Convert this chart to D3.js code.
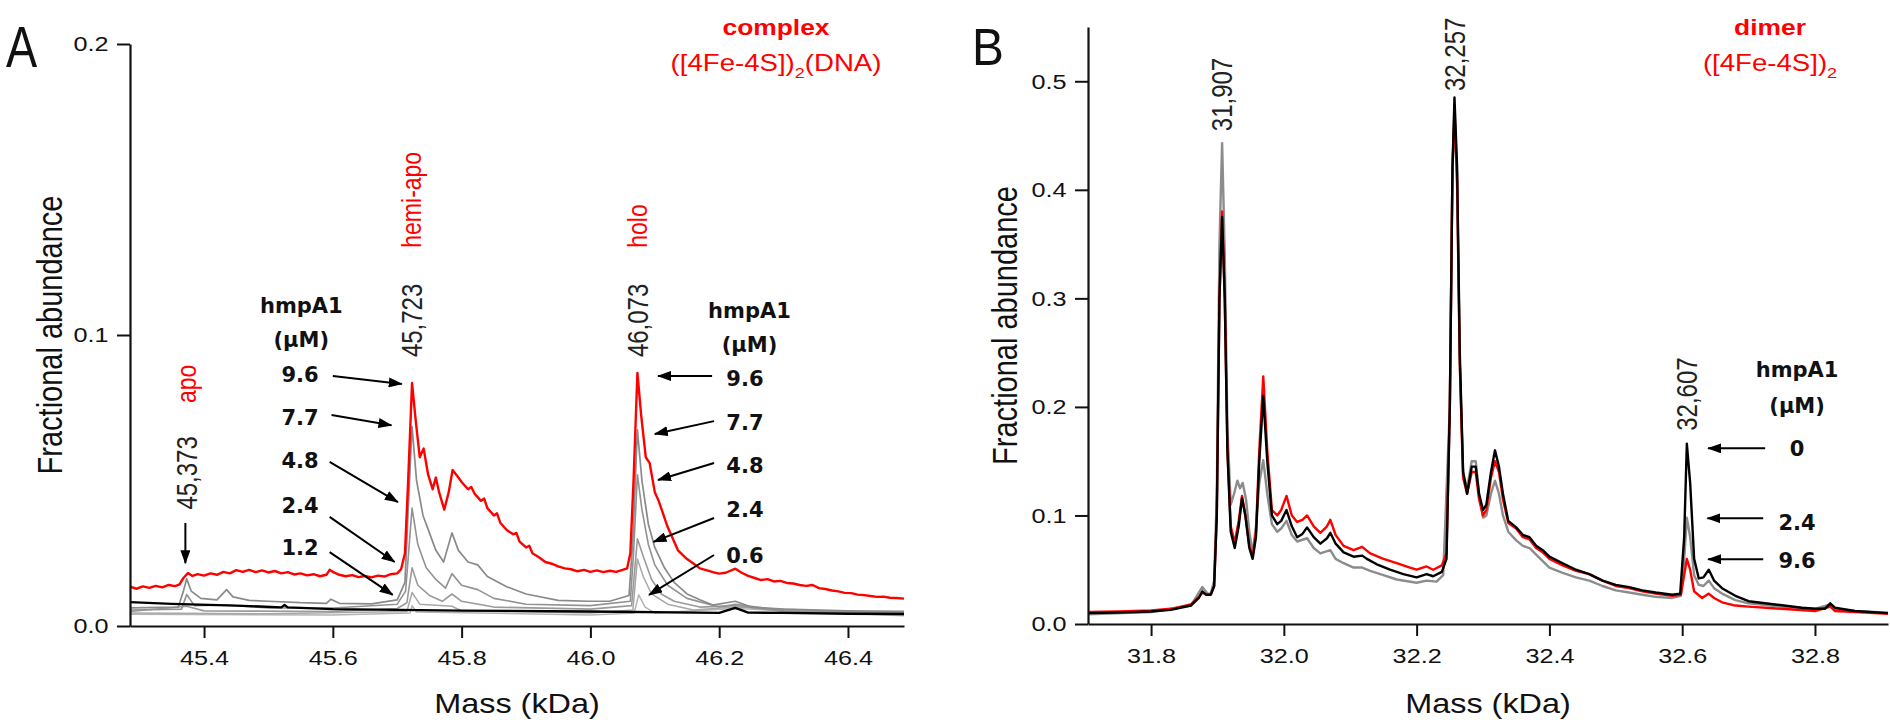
<!DOCTYPE html>
<html>
<head>
<meta charset="utf-8">
<script src="https://cdn.jsdelivr.net/npm/d3@7"></script>
<style>
 body{margin:0;background:#fff;}
</style>
</head>
<body>
<svg id="fig" width="1890" height="725"></svg>
<script>
// ---------- panel A : complex ([4Fe-4S])2(DNA) , [mass kDa, fractional abundance] ----------
var aRed96 = [[45.285,0.0135],[45.295,0.0128],[45.305,0.0136],[45.315,0.0131],[45.325,0.0138],[45.335,0.0133],
 [45.345,0.0141],[45.355,0.0137],[45.362,0.0143],[45.368,0.0165],[45.375,0.0182],[45.382,0.0172],[45.39,0.0178],
 [45.40,0.0173],[45.41,0.0181],[45.42,0.0176],[45.43,0.0186],[45.44,0.0181],[45.45,0.0192],[45.46,0.0186],
 [45.47,0.0193],[45.48,0.0185],[45.49,0.0191],[45.50,0.0184],[45.51,0.0189],[45.52,0.0181],[45.53,0.0185],
 [45.54,0.0177],[45.55,0.0181],[45.56,0.0174],[45.57,0.0178],[45.58,0.0171],[45.59,0.0176],[45.595,0.0193],
 [45.60,0.0186],[45.61,0.0176],[45.62,0.0171],[45.63,0.0175],[45.64,0.0168],[45.65,0.0172],[45.66,0.0167],
 [45.67,0.0173],[45.68,0.0170],[45.69,0.0178],[45.70,0.0181],[45.706,0.0195],[45.712,0.025],[45.717,0.05],
 [45.723,0.0835],[45.729,0.07],[45.735,0.058],[45.741,0.061],[45.748,0.052],[45.755,0.047],[45.76,0.051],
 [45.765,0.046],[45.773,0.040],[45.78,0.046],[45.786,0.0536],[45.795,0.051],[45.80,0.0495],[45.81,0.047],
 [45.815,0.0478],[45.82,0.0455],[45.83,0.043],[45.835,0.0438],[45.84,0.0405],[45.85,0.038],[45.855,0.0387],
 [45.86,0.0355],[45.87,0.033],[45.88,0.0315],[45.885,0.032],[45.89,0.029],[45.90,0.027],[45.905,0.0276],
 [45.91,0.025],[45.92,0.0236],[45.93,0.022],[45.94,0.0214],[45.95,0.0205],[45.96,0.0198],[45.97,0.0195],
 [45.98,0.0188],[45.99,0.0193],[46.00,0.0186],[46.01,0.0191],[46.02,0.0185],[46.03,0.019],[46.04,0.0186],
 [46.05,0.0193],[46.057,0.0198],[46.062,0.025],[46.067,0.05],[46.073,0.087],[46.079,0.072],[46.086,0.058],
 [46.092,0.056],[46.10,0.046],[46.106,0.043],[46.12,0.034],[46.136,0.026],[46.15,0.023],[46.16,0.0215],
 [46.17,0.0198],[46.18,0.0192],[46.19,0.0185],[46.20,0.018],[46.21,0.0183],[46.225,0.0197],[46.235,0.0183],
 [46.245,0.0172],[46.255,0.0165],[46.265,0.0158],[46.275,0.0161],[46.285,0.0153],[46.295,0.0155],
 [46.305,0.0148],[46.315,0.0146],[46.325,0.0141],[46.335,0.0138],[46.345,0.0141],[46.355,0.013],
 [46.365,0.0127],[46.375,0.0122],[46.385,0.0119],[46.395,0.0114],[46.405,0.0113],[46.415,0.0108],
 [46.425,0.0106],[46.435,0.0103],[46.445,0.010],[46.455,0.0101],[46.465,0.0097],[46.475,0.0096],[46.487,0.0094]];

var aGray77 = [[45.285,0.0062],[45.36,0.0065],[45.368,0.012],[45.373,0.0162],[45.38,0.012],[45.395,0.0095],
 [45.42,0.009],[45.435,0.0125],[45.445,0.010],[45.47,0.0088],[45.50,0.0085],[45.55,0.008],[45.59,0.0078],
 [45.597,0.0092],[45.61,0.0078],[45.66,0.0076],[45.70,0.009],[45.712,0.015],[45.717,0.04],[45.723,0.0685],
 [45.73,0.05],[45.74,0.038],[45.75,0.032],[45.76,0.026],[45.772,0.022],[45.785,0.032],[45.795,0.026],
 [45.81,0.022],[45.825,0.021],[45.84,0.017],[45.87,0.0135],[45.90,0.011],[45.95,0.0088],[45.997,0.0085],
 [46.03,0.0085],[46.06,0.0105],[46.066,0.03],[46.073,0.0674],[46.08,0.05],[46.09,0.035],[46.10,0.027],
 [46.115,0.02],[46.13,0.015],[46.15,0.011],[46.17,0.009],[46.19,0.0072],[46.225,0.0085],[46.25,0.0065],
 [46.30,0.0058],[46.40,0.0052],[46.487,0.005]];

var aGray48 = [[45.285,0.0055],[45.365,0.0058],[45.373,0.0108],[45.385,0.007],[45.435,0.0072],[45.50,0.0062],
 [45.60,0.0062],[45.70,0.0075],[45.713,0.012],[45.723,0.0405],[45.732,0.028],[45.745,0.02],[45.76,0.016],
 [45.775,0.013],[45.785,0.018],[45.80,0.014],[45.825,0.0125],[45.85,0.0095],[45.90,0.0075],[46.00,0.007],
 [46.062,0.0085],[46.067,0.025],[46.073,0.052],[46.08,0.04],[46.09,0.028],[46.10,0.021],[46.12,0.014],
 [46.15,0.0095],[46.20,0.0065],[46.225,0.0075],[46.30,0.0052],[46.487,0.0045]];

var aGray24 = [[45.285,0.005],[45.373,0.0068],[45.40,0.0052],[45.60,0.005],[45.70,0.006],[45.715,0.008],
 [45.723,0.020],[45.732,0.014],[45.75,0.0105],[45.77,0.0085],[45.785,0.011],[45.80,0.0085],[45.85,0.0065],
 [46.00,0.0058],[46.064,0.007],[46.073,0.030],[46.082,0.024],[46.095,0.016],[46.11,0.011],[46.13,0.0085],
 [46.17,0.0065],[46.225,0.007],[46.30,0.005],[46.487,0.0043]];

var aGray12 = [[45.285,0.0045],[45.50,0.0042],[45.715,0.005],[45.723,0.0115],[45.735,0.0075],[45.785,0.0068],
 [45.80,0.0052],[46.00,0.0045],[46.066,0.0055],[46.073,0.023],[46.082,0.017],[46.095,0.011],[46.12,0.0075],
 [46.16,0.0055],[46.225,0.0065],[46.487,0.004]];

var aGray06 = [[45.285,0.004],[45.60,0.0038],[45.72,0.0045],[45.723,0.007],[45.73,0.0048],[46.00,0.0038],
 [46.068,0.0045],[46.075,0.0107],[46.085,0.0065],[46.10,0.0045],[46.225,0.006],[46.487,0.0035]];

var aBlack0 = [[45.285,0.0082],[45.35,0.0076],[45.45,0.007],[45.52,0.0064],[45.525,0.0072],[45.53,0.0064],
 [45.60,0.0058],[45.80,0.0053],[46.00,0.005],[46.20,0.0045],[46.225,0.0062],[46.245,0.0046],[46.30,0.0045],
 [46.40,0.0042],[46.487,0.0041]];

var aSeries = [
 {conc:"0.6", data:aGray06, color:"#b4b4b4", w:1.5},
 {conc:"1.2", data:aGray12, color:"#a8a8a8", w:1.5},
 {conc:"2.4", data:aGray24, color:"#9a9a9a", w:1.6},
 {conc:"4.8", data:aGray48, color:"#929292", w:1.6},
 {conc:"7.7", data:aGray77, color:"#8a8a8a", w:1.7},
 {conc:"0",   data:aBlack0, color:"#000000", w:2.4},
 {conc:"9.6", data:aRed96,  color:"#ff0000", w:2.4}
];

var aXTicks = [45.4, 45.6, 45.8, 46.0, 46.2, 46.4];
var aYTicks = [0.0, 0.1, 0.2];

// peak labels [mass, value at text foot, text]
var aPeakLabels = [[45.373,0.040,"45,373"],[45.723,0.0924,"45,723"],[46.073,0.0924,"46,073"]];
var aStateLabels = [[45.373,0.0766,"apo"],[45.723,0.130,"hemi-apo"],[46.073,0.130,"holo"]];

// arrows: label, label pos [mass,value], tail [mass,value], tip [mass,value]
var aLeftArrows = [
 ["9.6",[45.549,0.0863],[45.600,0.0859],[45.707,0.0832]],
 ["7.7",[45.549,0.0718],[45.598,0.0725],[45.691,0.0690]],
 ["4.8",[45.549,0.0570],[45.595,0.0564],[45.701,0.0426]],
 ["2.4",[45.549,0.0416],[45.595,0.0375],[45.696,0.0220]],
 ["1.2",[45.549,0.0271],[45.595,0.0254],[45.693,0.0107]]
];
var aRightArrows = [
 ["9.6",[46.240,0.0852],[46.189,0.0859],[46.105,0.0859]],
 ["7.7",[46.240,0.0698],[46.192,0.0704],[46.100,0.0660]],
 ["4.8",[46.240,0.0553],[46.192,0.0560],[46.105,0.0502]],
 ["2.4",[46.240,0.0399],[46.192,0.0371],[46.098,0.0289]],
 ["0.6",[46.240,0.0244],[46.192,0.0244],[46.091,0.0107]]
];
var aApoArrow = [[45.371,0.0354],[45.371,0.0216]];

// ---------- panel B : dimer ([4Fe-4S])2 ----------
var bBlack0 = [[31.705,0.010],[31.75,0.0105],[31.80,0.0115],[31.83,0.013],[31.86,0.017],[31.872,0.024],
 [31.877,0.030],[31.883,0.027],[31.89,0.027],[31.895,0.035],[31.899,0.10],[31.903,0.30],[31.907,0.375],
 [31.911,0.30],[31.915,0.16],[31.92,0.085],[31.926,0.07],[31.932,0.09],[31.937,0.116],[31.942,0.10],
 [31.948,0.07],[31.953,0.06],[31.958,0.08],[31.963,0.15],[31.969,0.21],[31.975,0.15],[31.982,0.10],
 [31.99,0.092],[31.996,0.095],[32.004,0.105],[32.012,0.09],[32.02,0.08],[32.028,0.083],[32.035,0.089],
 [32.045,0.08],[32.055,0.074],[32.065,0.079],[32.07,0.084],[32.078,0.074],[32.09,0.066],[32.105,0.062],
 [32.118,0.063],[32.125,0.06],[32.14,0.055],[32.16,0.05],[32.18,0.046],[32.20,0.043],[32.215,0.046],
 [32.225,0.044],[32.238,0.048],[32.245,0.06],[32.25,0.20],[32.254,0.42],[32.257,0.485],[32.261,0.42],
 [32.265,0.25],[32.27,0.14],[32.276,0.12],[32.283,0.145],[32.289,0.145],[32.294,0.12],[32.30,0.105],
 [32.305,0.11],[32.312,0.14],[32.318,0.16],[32.324,0.145],[32.33,0.12],[32.338,0.095],[32.35,0.089],
 [32.36,0.082],[32.37,0.08],[32.38,0.072],[32.39,0.068],[32.40,0.062],[32.42,0.056],[32.44,0.05],
 [32.46,0.046],[32.48,0.04],[32.50,0.036],[32.52,0.034],[32.54,0.031],[32.56,0.029],[32.585,0.027],
 [32.597,0.028],[32.603,0.08],[32.607,0.166],[32.612,0.13],[32.618,0.06],[32.625,0.042],[32.632,0.043],
 [32.64,0.05],[32.648,0.04],[32.66,0.033],[32.68,0.026],[32.70,0.021],[32.74,0.018],[32.78,0.015],
 [32.80,0.014],[32.815,0.014],[32.823,0.019],[32.83,0.015],[32.86,0.012],[32.91,0.010]];

var bRed96 = [[31.705,0.011],[31.75,0.0115],[31.80,0.0125],[31.83,0.014],[31.86,0.018],[31.872,0.025],
 [31.877,0.029],[31.883,0.027],[31.89,0.027],[31.895,0.035],[31.899,0.10],[31.903,0.30],[31.907,0.38],
 [31.911,0.30],[31.915,0.16],[31.92,0.09],[31.926,0.075],[31.932,0.095],[31.937,0.118],[31.942,0.10],
 [31.948,0.072],[31.953,0.062],[31.958,0.085],[31.963,0.16],[31.969,0.228],[31.975,0.16],[31.982,0.105],
 [31.99,0.10],[31.996,0.105],[32.004,0.118],[32.012,0.10],[32.02,0.094],[32.028,0.096],[32.035,0.10],
 [32.045,0.09],[32.055,0.084],[32.065,0.09],[32.07,0.096],[32.078,0.082],[32.09,0.072],[32.105,0.068],
 [32.118,0.071],[32.13,0.065],[32.15,0.06],[32.17,0.056],[32.19,0.052],[32.20,0.05],[32.215,0.053],
 [32.225,0.05],[32.238,0.054],[32.245,0.065],[32.25,0.20],[32.254,0.42],[32.257,0.475],[32.261,0.41],
 [32.265,0.24],[32.27,0.135],[32.276,0.12],[32.283,0.14],[32.289,0.14],[32.294,0.115],[32.30,0.10],
 [32.305,0.105],[32.312,0.135],[32.318,0.15],[32.324,0.14],[32.33,0.115],[32.338,0.093],[32.35,0.088],
 [32.36,0.08],[32.37,0.078],[32.38,0.07],[32.39,0.066],[32.40,0.06],[32.42,0.054],[32.44,0.049],
 [32.46,0.046],[32.48,0.04],[32.50,0.035],[32.52,0.033],[32.54,0.03],[32.56,0.028],[32.585,0.026],
 [32.598,0.027],[32.603,0.045],[32.607,0.06],[32.612,0.05],[32.618,0.03],[32.63,0.024],[32.64,0.028],
 [32.648,0.024],[32.66,0.02],[32.68,0.017],[32.70,0.016],[32.75,0.014],[32.80,0.012],[32.823,0.016],
 [32.83,0.012],[32.86,0.011],[32.91,0.0095]];

var bGray24 = [[31.705,0.009],[31.80,0.011],[31.86,0.017],[31.877,0.034],[31.885,0.028],[31.89,0.028],
 [31.895,0.04],[31.899,0.12],[31.903,0.35],[31.907,0.443],[31.911,0.34],[31.915,0.18],[31.92,0.11],
 [31.925,0.12],[31.93,0.132],[31.934,0.125],[31.938,0.13],[31.943,0.115],[31.948,0.085],[31.953,0.065],
 [31.958,0.09],[31.963,0.13],[31.969,0.151],[31.975,0.12],[31.982,0.092],[31.99,0.085],[31.996,0.088],
 [32.004,0.095],[32.012,0.082],[32.02,0.076],[32.035,0.079],[32.045,0.07],[32.055,0.065],[32.07,0.068],
 [32.078,0.06],[32.09,0.056],[32.105,0.052],[32.118,0.052],[32.13,0.049],[32.15,0.045],[32.17,0.041],
 [32.20,0.038],[32.215,0.04],[32.23,0.039],[32.24,0.045],[32.25,0.20],[32.254,0.42],[32.257,0.47],
 [32.261,0.40],[32.265,0.24],[32.27,0.14],[32.276,0.125],[32.283,0.15],[32.289,0.15],[32.294,0.12],
 [32.30,0.098],[32.305,0.10],[32.312,0.12],[32.318,0.132],[32.324,0.12],[32.33,0.10],[32.338,0.085],
 [32.35,0.077],[32.36,0.072],[32.37,0.07],[32.38,0.064],[32.39,0.058],[32.40,0.052],[32.42,0.047],
 [32.44,0.043],[32.46,0.04],[32.48,0.035],[32.50,0.031],[32.52,0.029],[32.54,0.027],[32.56,0.025],
 [32.585,0.024],[32.598,0.026],[32.603,0.06],[32.607,0.098],[32.612,0.08],[32.618,0.045],[32.625,0.036],
 [32.632,0.035],[32.64,0.04],[32.648,0.033],[32.66,0.028],[32.68,0.022],[32.70,0.019],[32.75,0.016],
 [32.80,0.014],[32.823,0.018],[32.83,0.014],[32.86,0.012],[32.91,0.0105]];

var bSeries = [
 {conc:"2.4", data:bGray24, color:"#8c8c8c", w:2.4},
 {conc:"9.6", data:bRed96,  color:"#ff0000", w:2.4},
 {conc:"0",   data:bBlack0, color:"#000000", w:2.4}
];

var bXTicks = [31.8, 32.0, 32.2, 32.4, 32.6, 32.8];
var bYTicks = [0.0, 0.1, 0.2, 0.3, 0.4, 0.5];
var bPeakLabels = [[31.907,0.454,"31,907"],[32.257,0.491,"32,257"],[32.607,0.178,"32,607"]];
var bArrows = [
 ["0",  [32.773,0.1618],[32.725,0.1618],[32.639,0.1618]],
 ["2.4",[32.773,0.0938],[32.722,0.0974],[32.638,0.0974]],
 ["9.6",[32.773,0.0588],[32.722,0.0597],[32.639,0.0597]]
];
var bLegendPos = [32.773, 0.228, 0.194];

// ---------- drawing ----------
var svg = d3.select("#fig");
var SANS = "'Liberation Sans', Arial, sans-serif";
var BOLD = "'DejaVu Sans', Verdana, sans-serif";

svg.append("defs").append("marker")
  .attr("id","head").attr("markerUnits","userSpaceOnUse")
  .attr("markerWidth",14).attr("markerHeight",10).attr("refX",13).attr("refY",5)
  .attr("orient","auto")
 .append("path").attr("d","M0,0 L14,5 L0,10 Z").attr("fill","#000");

function txt(g, x, y, s, o) {
  o = o || {};
  var tr = "translate(" + x + "," + y + ")" + (o.rot ? " rotate(-90) scale(1,1.2)" : " scale(" + (o.sx || 1.2) + ",1)");
  var t = g.append("text")
    .attr("transform", tr)
    .attr("text-anchor", o.anchor || "middle")
    .attr("font-family", o.family || SANS)
    .attr("font-size", o.size || 21)
    .attr("font-weight", o.weight || "normal")
    .attr("fill", o.fill || "#111");
  if (o.dy) t.attr("dy", o.dy);
  t.text(s);
  return t;
}

function minors(lo, hi, step, every) {
  return d3.range(Math.round(lo / step), Math.round(hi / step) + 1)
    .filter(function(k){ return k % every !== 0; })
    .map(function(k){ return k * step; });
}

function drawPanel(p) {
  var g = svg.append("g");
  var x = d3.scaleLinear().domain(p.xd).range(p.xr);
  var y = d3.scaleLinear().domain(p.yd).range(p.yr);

  // spectra
  var line = d3.line().x(function(d){ return x(d[0]); }).y(function(d){ return y(d[1]); });
  g.selectAll("path.spec").data(p.series).enter().append("path")
    .attr("class","spec")
    .attr("d", function(s){ return line(s.data); })
    .attr("fill","none")
    .attr("stroke", function(s){ return s.color; })
    .attr("stroke-width", function(s){ return s.w; })
    .attr("stroke-linejoin","round");

  // axes
  var xa = g.append("g").attr("transform","translate(0," + p.yr[0] + ")");
  xa.call(d3.axisBottom(x).tickValues(p.xMinor).tickSize(6).tickSizeOuter(0).tickFormat(""));
  xa.call(d3.axisBottom(x).tickValues(p.xTicks).tickSize(12).tickSizeOuter(0).tickPadding(12).tickFormat(d3.format(".1f")));
  var ya = g.append("g").attr("transform","translate(" + p.xr[0] + ",0)");
  ya.call(d3.axisLeft(y).tickValues(p.yMinor).tickSize(7).tickSizeOuter(0).tickFormat(""));
  ya.call(d3.axisLeft(y).tickValues(p.yTicks).tickSize(13).tickSizeOuter(0).tickPadding(5).tickFormat(d3.format(".1f")));
  g.selectAll(".domain").attr("stroke-width",2.2).attr("stroke","#111");
  g.selectAll(".tick line").attr("stroke-width",2).attr("stroke","#111");
  g.selectAll(".tick text").attr("font-family",SANS).attr("font-size",21).attr("fill","#111")
    .attr("transform","scale(1.2,1)");

  txt(g, (p.xr[0] + p.xr[1]) / 2, 713, "Mass (kDa)", {size:27});
  txt(g, p.yLabelX, (p.yr[0] + p.yr[1]) / 2, "Fractional abundance", {rot:true, size:29, dy:"0.35em"});
  txt(g, p.letter[1], p.letter[2], p.letter[0], {size:p.letter[3], sx:p.letter[4], anchor:"start"});

  p.peakLabels.forEach(function(d){
    txt(g, x(d[0]), y(d[1]), d[2], {rot:true, size:24, anchor:"start", dy:"0.36em", fill:"#222"});
  });

  function arrows(list) {
    list.forEach(function(a){
      txt(g, x(a[1][0]), y(a[1][1]), a[0], {family:BOLD, weight:"bold", size:21, sx:1, dy:"0.36em", fill:"#111"});
      g.append("line")
        .attr("x1", x(a[2][0])).attr("y1", y(a[2][1]))
        .attr("x2", x(a[3][0])).attr("y2", y(a[3][1]))
        .attr("stroke","#000").attr("stroke-width",2)
        .attr("marker-end","url(#head)");
    });
  }
  (p.arrowSets || []).forEach(arrows);
  return {g:g, x:x, y:y};
}

function titleBlock(g, cx, bold, plain, tail) {
  txt(g, cx, 35, bold, {size:22, weight:"bold", fill:"#ff0000"});
  var t = txt(g, cx, 71, "", {size:23, fill:"#ff0000"});
  t.append("tspan").text(plain);
  t.append("tspan").attr("font-size",15).attr("dy",7).text("2");
  if (tail) t.append("tspan").attr("dy",-7).text(tail);
}

var A = drawPanel({
  xd:[45.285, 46.487], xr:[130, 904], yd:[0, 0.2], yr:[626, 44],
  series:aSeries, xTicks:aXTicks, yTicks:aYTicks,
  xMinor:minors(45.30, 46.45, 0.05, 4).filter(function(v){ return Math.abs(v * 5 - Math.round(v * 5)) > 1e-6; }),
  yMinor:minors(0.02, 0.18, 0.02, 5),
  yLabelX:50, letter:["A", 6, 67, 57, 0.82],
  peakLabels:aPeakLabels,
  arrowSets:[aLeftArrows, aRightArrows]
});
aStateLabels.forEach(function(d){
  txt(A.g, A.x(d[0]), A.y(d[1]), d[2], {rot:true, size:23, anchor:"start", dy:"0.33em", fill:"#ff0000"});
});
A.g.append("line")
  .attr("x1", A.x(aApoArrow[0][0])).attr("y1", A.y(aApoArrow[0][1]))
  .attr("x2", A.x(aApoArrow[1][0])).attr("y2", A.y(aApoArrow[1][1]))
  .attr("stroke","#000").attr("stroke-width",2).attr("marker-end","url(#head)");
txt(A.g, A.x(45.551), A.y(0.1075), "hmpA1", {family:BOLD, weight:"bold", size:21, sx:1});
txt(A.g, A.x(45.551), A.y(0.0960), "(\u03bcM)", {family:BOLD, weight:"bold", size:21, sx:1});
txt(A.g, A.x(46.247), A.y(0.1058), "hmpA1", {family:BOLD, weight:"bold", size:21, sx:1});
txt(A.g, A.x(46.247), A.y(0.0940), "(\u03bcM)", {family:BOLD, weight:"bold", size:21, sx:1});
titleBlock(A.g, 776, "complex", "([4Fe-4S])", "(DNA)");

var B = drawPanel({
  xd:[31.705, 32.91], xr:[1088, 1888], yd:[0, 0.55], yr:[624, 27],
  series:bSeries, xTicks:bXTicks, yTicks:bYTicks,
  xMinor:minors(31.75, 32.90, 0.05, 4).filter(function(v){ return Math.abs(v * 5 - Math.round(v * 5)) > 1e-6; }),
  yMinor:minors(0.05, 0.55, 0.05, 2),
  yLabelX:1005, letter:["B", 972, 65, 52, 0.92],
  peakLabels:bPeakLabels,
  arrowSets:[bArrows]
});
txt(B.g, B.x(bLegendPos[0]), B.y(bLegendPos[1]), "hmpA1", {family:BOLD, weight:"bold", size:21, sx:1});
txt(B.g, B.x(bLegendPos[0]), B.y(bLegendPos[2]), "(\u03bcM)", {family:BOLD, weight:"bold", size:21, sx:1});
titleBlock(B.g, 1770, "dimer", "([4Fe-4S])", null);
</script>
</body>
</html>
